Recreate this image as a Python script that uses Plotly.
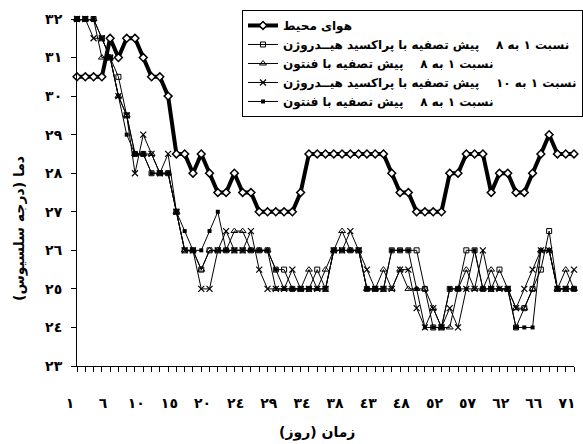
import plotly.graph_objects as go

def fa(n):
    return str(n).translate(str.maketrans("0123456789", "٠١٢٣٤٥٦٧٨٩"))

# x tick labels (day), shown every 4th sample
day_labels = [1, 6, 10, 15, 20, 24, 29, 34, 38, 43, 48, 52, 57, 62, 66, 71]
n_points = 61

ambient = [30.5, 30.5, 30.5, 30.5, 31.5, 31, 31.5, 31.5, 31, 30.5, 30.5, 30,
           28.5, 28.5, 28, 28.5, 28, 27.5, 27.5, 28, 27.5, 27.5, 27, 27, 27, 27, 27, 27.5, 28.5, 28.5,
           28.5, 28.5, 28.5, 28.5, 28.5, 28.5, 28.5, 28.5, 28, 27.5, 27.5, 27, 27, 27, 27,
           28, 28, 28.5, 28.5, 28.5, 27.5, 28, 28, 27.5, 27.5, 28, 28.5, 29, 28.5, 28.5, 28.5]

hp_1_8 = [32, 32, 32, 31.5, 31, 30.5, 29.5, 28.5, 28.5, 28, 28, 28,
          27, 26, 26, 25.5, 26, 26, 26, 26, 26, 26, 26, 26, 25.5, 25.5, 25, 25, 25, 25.5,
          25, 26, 26, 26, 26, 25, 25, 25, 26, 26, 26, 26, 25, 24, 24,
          25, 25, 26, 26, 25, 25, 25.5, 25, 24, 24.5, 25, 25.5, 26.5, 25, 25, 25]

fenton_1_8_a = [32, 32, 32, 31, 31, 30, 29.5, 28.5, 28.5, 28.5, 28, 28,
                27, 26, 26, 25.5, 26, 26, 26, 26.5, 26.5, 26, 26, 26, 25, 25, 25, 25, 25.5, 25,
                25.5, 26, 26.5, 26, 26, 25, 25, 25.5, 25, 25.5, 25, 25, 25, 24.5, 24,
                24, 25, 25.5, 25, 25, 25.5, 25, 25, 24.5, 24.5, 25, 26, 26, 25, 25.5, 25]

hp_1_10 = [32, 32, 31.5, 31.5, 31, 30, 29.5, 28, 29, 28.5, 28, 28.5,
           27, 26, 26, 25, 25, 26, 26.5, 26, 26, 26.5, 25.5, 25, 25, 25, 25.5, 25, 25, 25,
           25, 26, 26, 26.5, 26, 25.5, 25, 25, 25, 25.5, 25.5, 24.5, 24, 24.5, 24,
           24.5, 24, 25, 25, 26, 25, 25, 25, 24.5, 25, 25.5, 26, 26, 25, 25, 25.5]

fenton_1_8_b = [32, 32, 32, 31.5, 31, 30, 29, 28.5, 28.5, 28, 28, 28,
                27, 26.5, 26, 26, 26.5, 27, 26, 26, 26, 26, 26, 26, 25.5, 25, 25, 25, 25, 25,
                25, 26, 26, 26, 26, 25, 25, 25, 26, 26, 26, 25, 24, 24, 24,
                25, 25, 25, 26, 25, 25, 25, 25, 24, 24, 24, 26, 26, 25, 25, 25]

names = [
    "هوای محیط",
    "نسبت ١ به ٨    پیش تصفیه با پراکسید هیــدروژن",
    "نسبت ١ به ٨    پیش تصفیه با فنتون",
    "نسبت ١ به ١٠    پیش تصفیه با پراکسید هیــدروژن",
    "نسبت ١ به ٨    پیش تصفیه با فنتون",
]

x = list(range(n_points))
FONT = "DejaVu Sans"

fig = go.Figure()
fig.add_trace(go.Scatter(x=x, y=ambient, name=names[0], mode="lines+markers",
                         line=dict(color="black", width=4),
                         marker=dict(symbol="diamond", size=6, color="white",
                                     line=dict(color="black", width=1.5)),
                         cliponaxis=False))
fig.add_trace(go.Scatter(x=x, y=hp_1_8, name=names[1], mode="lines+markers",
                         line=dict(color="black", width=1),
                         marker=dict(symbol="square-open", size=5, color="black",
                                     line=dict(width=1)),
                         cliponaxis=False))
fig.add_trace(go.Scatter(x=x, y=fenton_1_8_a, name=names[2], mode="lines+markers",
                         line=dict(color="black", width=1),
                         marker=dict(symbol="triangle-up-open", size=6, color="black",
                                     line=dict(width=1)),
                         cliponaxis=False))
fig.add_trace(go.Scatter(x=x, y=hp_1_10, name=names[3], mode="lines+markers",
                         line=dict(color="black", width=1),
                         marker=dict(symbol="x-thin-open", size=6, color="black",
                                     line=dict(width=1.2, color="black")),
                         cliponaxis=False))
fig.add_trace(go.Scatter(x=x, y=fenton_1_8_b, name=names[4], mode="lines+markers",
                         line=dict(color="black", width=1),
                         marker=dict(symbol="square", size=4, color="black"),
                         cliponaxis=False))

tickvals = list(range(0, n_points, 4))
fig.update_layout(
    width=583, height=444,
    margin=dict(l=77, r=9, t=19, b=78, autoexpand=False),
    paper_bgcolor="white", plot_bgcolor="white",
    font=dict(family=FONT, size=12, color="black", weight="bold"),
    showlegend=True,
    legend=dict(x=0.332, y=1.026, xanchor="left", yanchor="top",
                bordercolor="black", borderwidth=1, bgcolor="white",
                font=dict(family=FONT, size=12, weight="bold"),
                tracegroupgap=0),
    xaxis=dict(range=[0, n_points - 1], tickmode="array", tickvals=tickvals,
               ticktext=[fa(d) for d in day_labels],
               showline=True, linecolor="black", linewidth=1,
               ticks="outside", ticklen=0, showgrid=False, zeroline=False,
               ticklabelstandoff=24, ticklabelshift=-7,
               tickfont=dict(family=FONT, size=14, weight="bold"),
               minor=dict(tickmode="linear", tick0=0, dtick=1, ticks="outside",
                          ticklen=5, tickcolor="black", showgrid=False)),
    yaxis=dict(range=[23, 32], tickmode="array", tickvals=list(range(23, 33)),
               ticktext=[fa(v) for v in range(23, 33)],
               showline=True, linecolor="black", linewidth=1,
               ticks="outside", ticklen=5, tickcolor="black",
               showgrid=False, zeroline=False, ticklabelstandoff=6,
               tickfont=dict(family=FONT, size=14, weight="bold")),
    annotations=[
        dict(text="زمان (روز)", xref="paper", yref="paper",
             x=(317 - 77) / 497, y=-(432 - 366) / 347, xanchor="center", yanchor="middle",
             showarrow=False, font=dict(family=FONT, size=14, weight="bold")),
        dict(text="دما (درجه سلسیوس)", xref="paper", yref="paper",
             x=(20 - 77) / 497, y=(366 - 229) / 347, xanchor="center", yanchor="middle",
             textangle=-90, showarrow=False, font=dict(family=FONT, size=14, weight="bold")),
    ],
)

fig.write_html("out.html", config={"displayModeBar": False},
               post_script="document.body.style.margin='0';document.body.style.padding='0';")
